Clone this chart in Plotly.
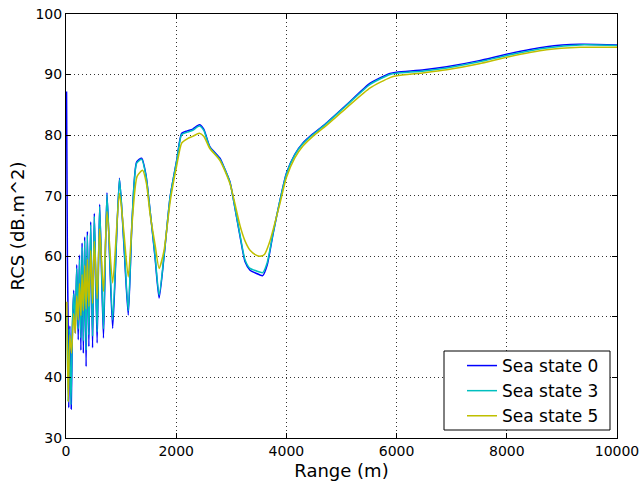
import plotly.graph_objects as go

# Sea state 0
x_ss0 = [10, 25, 40, 50, 70, 95, 115, 140, 168, 195, 222, 245, 270, 292, 315, 339, 365, 388, 415,
         448, 482, 514, 565, 611, 680, 744, 847, 970, 1050, 1130, 1200, 1283, 1373, 1450, 1525, 1615,
         1690, 1780, 1890, 2010, 2100, 2200, 2300, 2420, 2500, 2610, 2795, 2850, 2975, 3030, 3160,
         3250, 3340, 3450, 3570, 3650, 3760, 3885, 4000, 4150, 4300, 4480, 4700, 5090, 5520, 5880,
         6000, 6500, 6910, 7500, 8015, 8720, 9330, 10000]
y_ss0 = [87.2, 60.0, 48.0, 35.0, 48.5, 34.8, 47.5, 54.4, 47.3, 58.6, 46.2, 60.2, 44.5, 62.2, 44.0, 63.2,
         41.8, 64.1, 45.1, 65.7, 44.9, 67.1, 45.7, 68.6, 46.5, 70.5, 48.1, 72.9, 62.0, 50.3, 66.0, 75.6,
         76.2, 73.5, 67.6, 59.9, 53.1, 60.0, 69.8, 75.9, 80.3, 80.7, 81.0, 81.7, 81.0, 78.1, 76.2, 75.1,
         72.3, 69.8, 63.2, 59.1, 57.7, 57.2, 56.8, 58.5, 63.8, 69.3, 73.7, 76.8, 78.7, 80.2, 81.8, 85.0,
         88.6, 90.2, 90.4, 90.8, 91.3, 92.3, 93.4, 94.6, 95.0, 94.9]

# Sea state 3
x_ss3 = [15, 40, 60, 90, 115, 140, 168, 195, 222, 245, 270, 292, 315, 339, 365, 388, 415,
         448, 482, 514, 565, 611, 680, 744, 847, 970, 1050, 1130, 1200, 1283, 1373, 1450, 1525, 1615,
         1690, 1780, 1890, 2010, 2100, 2200, 2300, 2420, 2500, 2610, 2795, 2850, 2975, 3030, 3160,
         3250, 3340, 3450, 3570, 3650, 3760, 3885, 4000, 4150, 4300, 4480, 4700, 5090, 5520, 5880,
         6000, 6500, 6910, 7500, 8015, 8720, 9330, 10000]
y_ss3 = [50.0, 36.0, 48.0, 35.5, 48.5, 53.8, 49.0, 58.0, 48.0, 59.5, 46.5, 61.5, 46.0, 62.6,
         44.5, 63.5, 47.0, 65.2, 46.8, 66.6, 47.5, 68.2, 48.0, 70.2, 49.5, 72.7, 62.5, 51.0, 66.2, 75.4,
         76.0, 73.3, 67.6, 60.2, 53.6, 60.2, 69.8, 75.8, 80.1, 80.5, 80.8, 81.5, 80.8, 78.0, 76.0, 75.0,
         72.2, 69.8, 63.4, 59.4, 58.0, 57.6, 57.3, 58.9, 63.9, 69.3, 73.6, 76.7, 78.6, 80.1, 81.7, 84.9,
         88.4, 90.0, 90.2, 90.6, 91.1, 92.1, 93.2, 94.4, 94.9, 94.8]

# Sea state 5
x_ss5 = [15, 40, 70, 100, 140, 168, 195, 222, 245, 270, 292, 315, 339, 365, 388, 415,
         448, 482, 514, 565, 611, 680, 744, 847, 970, 1050, 1130, 1200, 1290, 1390, 1460, 1525, 1615,
         1690, 1780, 1890, 2010, 2100, 2200, 2300, 2420, 2500, 2610, 2795, 2975, 3160,
         3250, 3340, 3450, 3520, 3600, 3700, 3885, 4000, 4150, 4300, 4480, 4700, 5090, 5520, 5880,
         6000, 6500, 6910, 7500, 8015, 8720, 9330, 10000]
y_ss5 = [52.5, 36.0, 47.0, 44.0, 50.5, 47.3, 53.5, 49.5, 55.5, 50.2, 57.0, 51.0, 58.5, 51.3, 59.5, 51.7,
         61.0, 52.2, 62.5, 53.0, 64.5, 54.2, 67.4, 55.6, 70.4, 64.0, 56.6, 65.5, 73.2,
         74.2, 72.0, 67.0, 62.0, 58.0, 61.0, 69.0, 75.0, 78.7, 79.4, 79.8, 80.3, 79.8, 77.8, 75.8,
         72.0, 65.0, 62.5, 61.0, 60.2, 60.0, 60.3, 62.5, 68.8, 73.0, 76.2, 78.2, 79.8, 81.4, 84.5,
         87.8, 89.5, 89.8, 90.3, 90.8, 91.8, 92.9, 94.1, 94.5, 94.5]

x_ticks = [0, 2000, 4000, 6000, 8000, 10000]
x_ticklabels = ["0", "2000", "4000", "6000", "8000", "10000"]
y_ticks = [30, 40, 50, 60, 70, 80, 90, 100]

series = [
    ("Sea state 0", x_ss0, y_ss0, "#0000ff"),
    ("Sea state 3", x_ss3, y_ss3, "#00bfbf"),
    ("Sea state 5", x_ss5, y_ss5, "#bfbf00"),
]

fig = go.Figure()
for name, xs, ys, col in series:
    fig.add_trace(go.Scatter(x=xs, y=ys, mode="lines", name=name,
                             line=dict(color=col, width=1.5, shape="spline", smoothing=0.6)))

font = "DejaVu Sans, sans-serif"
axis_common = dict(
    showline=True, linecolor="black", linewidth=1, mirror="allticks",
    ticks="inside", ticklen=5, tickcolor="black",
    showgrid=True, gridcolor="#333333", griddash="1px,3px", gridwidth=1,
    zeroline=False, automargin=False,
    tickfont=dict(family=font, size=14, color="black"),
)

fig.update_layout(
    width=640, height=482,
    margin=dict(l=66, r=23, t=14, b=44),
    paper_bgcolor="white", plot_bgcolor="white",
    xaxis=dict(range=[0, 10000], tickvals=x_ticks, ticktext=x_ticklabels,
               title=dict(text="Range (m)", font=dict(family=font, size=18, color="black"), standoff=6),
               **axis_common),
    yaxis=dict(range=[30, 100], tickvals=y_ticks,
               title=dict(text="RCS (dB.m^2)", font=dict(family=font, size=18, color="black"), standoff=6),
               **axis_common),
    legend=dict(x=(462 - 66) / 551, y=0.0094, xanchor="left", yanchor="bottom",
                borderwidth=0, bgcolor="rgba(0,0,0,0)",
                font=dict(family=font, size=17, color="black"),
                itemwidth=30, tracegroupgap=0),
    shapes=[dict(type="rect", xref="paper", yref="paper",
                 x0=(444 - 66) / 551, x1=(610 - 66) / 551,
                 y0=(438 - 430) / 424, y1=(438 - 351) / 424,
                 line=dict(color="black", width=1), fillcolor="white", layer="above")],
    showlegend=True,
)

fig.write_html("out.html")
